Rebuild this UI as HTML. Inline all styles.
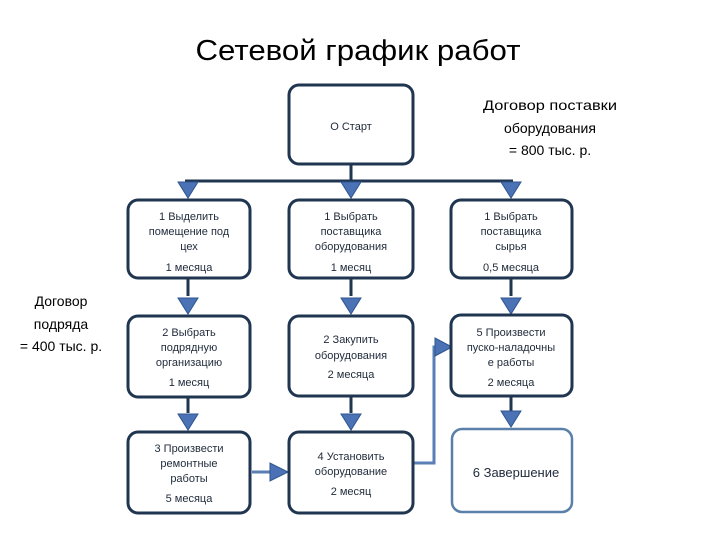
<!DOCTYPE html>
<html><head><meta charset="utf-8"><style>
html,body{margin:0;padding:0;background:#fff;width:720px;height:540px;overflow:hidden}
svg text{font-family:"Liberation Sans","DejaVu Sans",sans-serif}
</style></head><body>
<svg width="720" height="540" viewBox="0 0 720 540" xmlns="http://www.w3.org/2000/svg">
<text x="358" y="60" font-size="29" text-anchor="middle" fill="#000" textLength="325" lengthAdjust="spacingAndGlyphs">Сетевой график работ</text>
<g fill="#000" font-size="14" text-anchor="middle">
<text x="550" y="110" textLength="134" lengthAdjust="spacingAndGlyphs">Договор поставки</text>
<text x="550" y="133">оборудования</text>
<text x="550" y="155">= 800 тыс. р.</text>
<text x="61" y="306">Договор</text>
<text x="61" y="329">подряда</text>
<text x="61" y="351">= 400 тыс. р.</text>
</g>
<!-- connectors -->
<g stroke="#1f3550" stroke-width="3" fill="none">
<line x1="351" y1="164" x2="351" y2="182"/>
<line x1="185" y1="181" x2="513" y2="181"/>
<line x1="188" y1="278" x2="188" y2="296"/>
<line x1="351" y1="278" x2="351" y2="296"/>
<line x1="511" y1="278" x2="511" y2="296"/>
<line x1="188" y1="397" x2="188" y2="413"/>
<line x1="351" y1="396" x2="351" y2="413"/>
<line x1="511" y1="396" x2="511" y2="411"/>
</g>
<g stroke="#5a7fb5" stroke-width="3" fill="none">
<line x1="252" y1="472" x2="270" y2="472"/>
<polyline points="413,463 434,463 434,347 437,347"/>
</g>
<g fill="#4a72b5" stroke="#2e5590" stroke-width="1">
<polygon points="178,182 198,182 188,198"/>
<polygon points="341,182 361,182 351,198"/>
<polygon points="501,182 521,182 511,198"/>
<polygon points="178,298 198,298 188,314"/>
<polygon points="341,298 361,298 351,314"/>
<polygon points="501,298 521,298 511,314"/>
<polygon points="178,414 198,414 188,430"/>
<polygon points="341,414 361,414 351,430"/>
<polygon points="501,411 521,411 511,427"/>
<polygon points="270,463 270,481 288,472"/>
<polygon points="435,338 435,356 452,347"/>
</g>
<!-- boxes -->
<g fill="#fff" stroke="#1f3550" stroke-width="3">
<rect x="289" y="85" width="124" height="79" rx="10"/>
<rect x="128" y="200" width="122" height="78" rx="10"/>
<rect x="289" y="200" width="124" height="78" rx="10"/>
<rect x="451" y="200" width="121" height="78" rx="10"/>
<rect x="128" y="316" width="122" height="81" rx="10"/>
<rect x="289" y="316" width="124" height="80" rx="10"/>
<rect x="451" y="315" width="121" height="81" rx="10"/>
<rect x="128" y="432" width="122" height="81" rx="10"/>
<rect x="289" y="432" width="124" height="81" rx="10"/>
</g>
<rect x="452" y="429" width="120" height="83" rx="10" fill="#fff" stroke="#5a7fa8" stroke-width="2.5"/>
<g fill="#1f2a3a" font-size="11" text-anchor="middle">
<text x="351" y="130">О Старт</text>
<text x="189" y="220">1 Выделить</text>
<text x="189" y="235">помещение под</text>
<text x="189" y="250">цех</text>
<text x="189" y="271">1 месяца</text>
<text x="351" y="220">1 Выбрать</text>
<text x="351" y="235">поставщика</text>
<text x="351" y="250">оборудования</text>
<text x="351" y="271">1 месяц</text>
<text x="511" y="220">1 Выбрать</text>
<text x="511" y="235">поставщика</text>
<text x="511" y="250">сырья</text>
<text x="511" y="271">0,5 месяца</text>
<text x="189" y="336">2 Выбрать</text>
<text x="189" y="351">подрядную</text>
<text x="189" y="366">организацию</text>
<text x="189" y="386">1 месяц</text>
<text x="351" y="343">2 Закупить</text>
<text x="351" y="359">оборудования</text>
<text x="351" y="378">2 месяца</text>
<text x="511" y="336">5 Произвести</text>
<text x="511" y="351">пуско-наладочны</text>
<text x="511" y="366">е работы</text>
<text x="511" y="386">2 месяца</text>
<text x="189" y="452">3 Произвести</text>
<text x="189" y="467">ремонтные</text>
<text x="189" y="482">работы</text>
<text x="189" y="502">5 месяца</text>
<text x="351" y="460">4 Установить</text>
<text x="351" y="475">оборудование</text>
<text x="351" y="495">2 месяц</text>
<text x="516" y="477" font-size="13">6 Завершение</text>
</g>
</svg>
</body></html>
